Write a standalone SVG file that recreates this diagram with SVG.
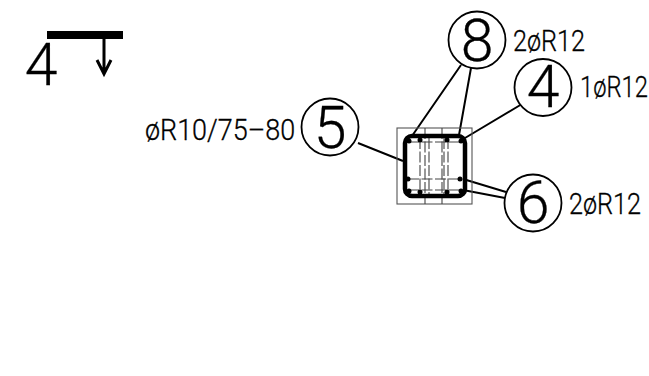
<svg xmlns="http://www.w3.org/2000/svg" width="649" height="376" viewBox="0 0 649 376">
<style>
text{font-family:"Roboto","Liberation Sans",sans-serif;font-weight:300;fill:#000;stroke:#000;stroke-width:.3}
.big{font-size:59px;text-anchor:middle}
.lab{font-size:29px}
.c{fill:#fff;stroke:#000;stroke-width:1.8}
.l{fill:none;stroke:#000;stroke-width:2}
.t{fill:none;stroke:#555;stroke-width:1.1}
.d{fill:none;stroke:#444;stroke-width:1.1;stroke-dasharray:11 2.500}
</style>
<rect width="649" height="376" fill="#fff"/>
<g id="section-mark">
<rect x="47" y="31" width="76" height="8" fill="#000"/>
<path d="M104 39V74M97 60L104 74L111 60" fill="none" stroke="#000" stroke-width="3"/>
<text x="41" y="85" class="big">4</text>
</g>
<g id="connectors">
<path class="l" d="M358 143L403 161M461 65L412 136M471 68L459 135M522 104L465 138M506 192L463 179M505 198L463 190"/>
</g>
<g id="column">
<rect class="t" x="397" y="128" width="75" height="76"/>
<path class="d" d="M425 128V204M442 128V204M420 138V194M429 138V194M444 138V194M448 138V194"/>
<path class="d" d="M408 142H462M408 179H462M408 190H462"/>
<rect x="405" y="136" width="60" height="60" rx="7" fill="none" stroke="#000" stroke-width="4.500"/>
<g fill="#000"><circle cx="409" cy="141" r="2.500"/><circle cx="420" cy="140" r="2.500"/><circle cx="447" cy="140" r="2.500"/><circle cx="461" cy="141" r="2.500"/><circle cx="408" cy="179" r="2.500"/><circle cx="460" cy="179" r="2.500"/><circle cx="409" cy="191" r="2.500"/><circle cx="420" cy="192" r="2.500"/><circle cx="447" cy="192" r="2.500"/><circle cx="461" cy="191" r="2.500"/></g>
</g>
<g id="node-8"><circle class="c" cx="477" cy="40" r="28.500"/><text x="477" y="61" class="big">8</text><text transform="translate(513 51) scale(.87 1)" class="lab">2øR12</text></g>
<g id="node-4"><circle class="c" cx="543" cy="87.500" r="28.500"/><text x="543" y="107" class="big">4</text><text transform="translate(580 97) scale(.82 1)" class="lab">1øR12</text></g>
<g id="node-5"><circle class="c" cx="330" cy="127" r="28.500"/><text x="330" y="148" class="big">5</text><text transform="translate(145 140) scale(.93 1)" class="lab">øR10/75–80</text></g>
<g id="node-6"><circle class="c" cx="533" cy="203" r="28.500"/><text x="533" y="223" class="big">6</text><text transform="translate(569 214) scale(.87 1)" class="lab">2øR12</text></g>
</svg>
